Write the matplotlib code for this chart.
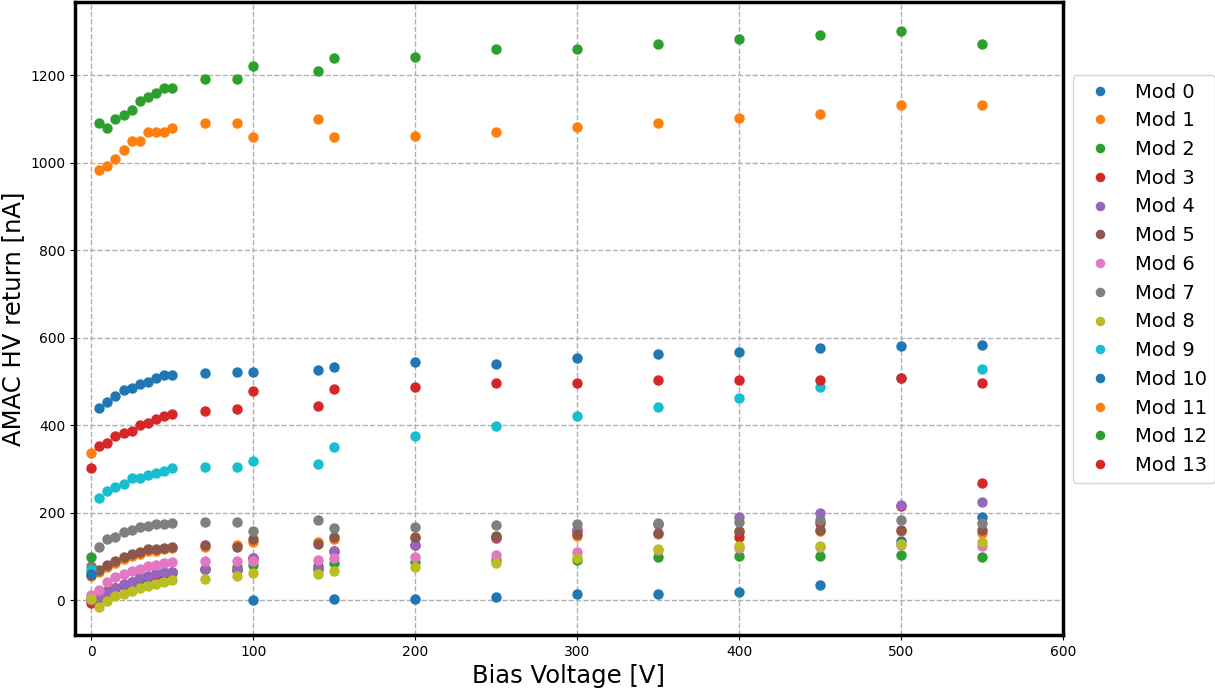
import numpy as np
import matplotlib
matplotlib.use("Agg")
import matplotlib.pyplot as plt

nan = np.nan
voltages = [0, 5, 10, 15, 20, 25, 30, 35, 40, 45, 50, 70, 90, 100, 140, 150,
            200, 250, 300, 350, 400, 450, 500, 550]

mod0 = [nan, nan, nan, nan, nan, nan, nan, nan, nan, nan, nan, nan, nan, 0, nan, 1.5,
        2, 7.5, 14, 14, 18, 35, 136, 190]
mod1 = [55, 64, 75, 85, 94, 100, 106, 111, 113, 116, 119, 121, 126, 133, 132, 139,
        141, 143, 147, 152, 155, 157, 157, 154]
mod2 = [5, 5, 21, 28, 34, 40, 49, 53, 57, 60, 62, 70, 76, 80, 78, 85,
        86, 91, 91, 99, 101, 101, 103, 99]
mod3 = [-7, 8, 16, 28, 36, 42, 52, 56, 60, 62, 64, 70, 69, 96, 71, 112,
        125, 142, 159, 173, 144, 175, 216, 268]
mod4 = [0, 8, 16, 28, 37, 42, 53, 56, 61, 63, 65, 70, 69, 97, 71, 113,
        126, 143, 160, 174, 190, 199, 217, 223]
mod5 = [58, 69, 80, 90, 99, 105, 110, 116, 117, 120, 122, 125, 122, 139, 127, 143,
        143, 146, 150, 154, 158, 160, 161, 160]
mod6 = [11, 24, 42, 52, 60, 66, 71, 77, 80, 84, 86, 90, 89, 89, 91, 96,
        99, 104, 110, 115, 119, 121, 126, 123]
mod7 = [78, 121, 139, 145, 156, 161, 166, 169, 174, 174, 177, 179, 179, 158, 183, 165,
        167, 171, 173, 177, 179, 183, 184, 177]
mod8 = [2, -15, -1.5, 9, 14.5, 21, 27, 32, 37, 42, 46, 48, 55, 61, 59, 66,
        75, 85, 97, 116, 124, 123, 128, 133]
mod9 = [69, 234, 249, 259, 265, 278, 280, 286, 290, 295, 302, 305, 305, 317, 312, 349,
        374, 398, 420, 441, 462, 488, 508, 528]
mod10 = [59, 440, 452, 466, 480, 485, 493, 498, 508, 515, 515, 518, 522, 522, 526, 532,
         543, 539, 553, 562, 567, 575, 580, 583]
mod11 = [335, 983, 993, 1009, 1029, 1049, 1049, 1069, 1069, 1069, 1080, 1090, 1090, 1059, 1099, 1059,
         1060, 1070, 1081, 1090, 1101, 1111, 1131, 1131]
mod12 = [98, 1090, 1080, 1099, 1109, 1120, 1140, 1149, 1160, 1170, 1170, 1190, 1190, 1220, 1209, 1240,
         1241, 1259, 1259, 1271, 1282, 1291, 1300, 1271]
mod13 = [302, 353, 358, 374, 381, 386, 401, 404, 414, 420, 425, 433, 437, 478, 443, 482,
         487, 496, 496, 503, 503, 503, 507, 496]

series = [mod0, mod1, mod2, mod3, mod4, mod5, mod6, mod7, mod8, mod9,
          mod10, mod11, mod12, mod13]
labels = [f"Mod {i}" for i in range(len(series))]

fig = plt.figure(figsize=(12.15, 6.88), dpi=100)
ax = fig.add_axes([75 / 1215, 53 / 688, 988 / 1215, 633 / 688])

colors = plt.rcParams['axes.prop_cycle'].by_key()['color']
for i, (vals, lab) in enumerate(zip(series, labels)):
    ax.plot(voltages, vals, 'o', linestyle='none', ms=6.5,
            color=colors[i % 10], label=lab, zorder=3)

ax.set_xlim(-10, 600)
ax.set_ylim(-80, 1367)
ax.set_xticks([0, 100, 200, 300, 400, 500, 600])
ax.set_yticks([0, 200, 400, 600, 800, 1000, 1200])
ax.tick_params(labelsize=10)
ax.grid(True, linestyle='--', color='#b0b0b0', linewidth=1.0, zorder=0)
ax.set_axisbelow(True)
for sp in ax.spines.values():
    sp.set_linewidth(2.5)

ax.set_xlabel("Bias Voltage [V]", fontsize=17.5)
ax.set_ylabel("AMAC HV return [nA]", fontsize=17.5)

ax.legend(loc='upper left', bbox_to_anchor=(1.01, 0.885), borderaxespad=0,
          fontsize=14, markerscale=0.9)

fig.savefig("out.png", dpi=100)
